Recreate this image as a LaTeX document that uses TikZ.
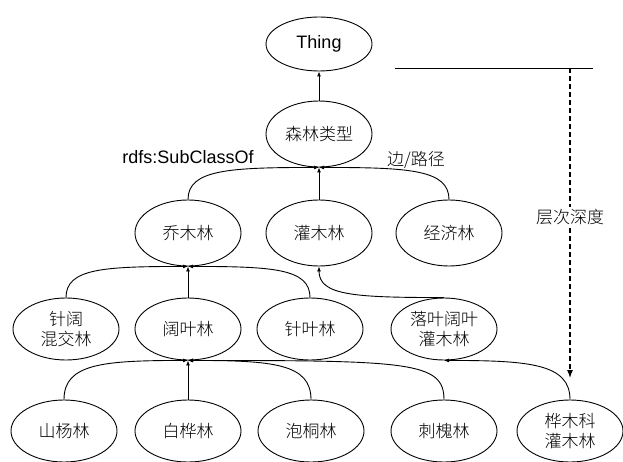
\documentclass[tikz,border=0pt]{standalone}
\usepackage{fontspec}
\setmainfont{Liberation Sans}
\newfontfamily\cjk{Noto Sans CJK SC}[UprightFont=* Light]
\usetikzlibrary{shapes.geometric,arrows.meta}
\begin{document}
\begin{tikzpicture}[x=1pt,y=-1pt,
  cls/.style={draw,ellipse,line width=0.9pt,minimum width=106pt,minimum height=62pt,inner sep=0pt,
    font=\cjk\fontsize{17}{20}\selectfont,align=center},
  tall/.style={cls,minimum height=66pt},
  conn/.style={line width=0.9pt,-{Latex[length=5pt,width=4pt]}},
  lbl/.style={font=\fontsize{18}{20}\selectfont,inner sep=1pt}]
\useasboundingbox (0,0) rectangle (623,462);
\node[cls,minimum height=54pt,font=\fontsize{18}{20}\selectfont] (thing) at (319,44) {Thing};
\node[tall] (senlin) at (319,134) {森林类型};
\node[tall] (qiaomu) at (188,233) {乔木林};
\node[tall] (guanmu) at (319,233) {灌木林};
\node[tall] (jingji) at (449,233) {经济林};
\node[cls] (zhenkuo) at (66,329) {针阔\\混交林};
\node[cls] (kuoye) at (188,329) {阔叶林};
\node[cls] (zhenye) at (310,329) {针叶林};
\node[cls] (luoye) at (444,329) {落叶阔叶\\灌木林};
\node[cls] (shanyang) at (64,431) {山杨林};
\node[cls] (baihua) at (188,431) {白桦林};
\node[cls] (paotong) at (311,431) {泡桐林};
\node[cls] (cihuai) at (444,431) {刺槐林};
\node[cls] (huamu) at (570,431) {桦木科\\灌木林};

\draw[conn] (senlin.north) -- (thing.south);
\draw[conn] (qiaomu.north) .. controls +(0,-30) and +(-90,0) .. (senlin.south);
\draw[conn] (guanmu.north) -- (senlin.south);
\draw[conn] (jingji.north) .. controls +(0,-30) and +(90,0) .. (senlin.south);
\draw[conn] (zhenkuo.north) .. controls +(0,-29) and +(-85,0) .. (qiaomu.south);
\draw[conn] (kuoye.north) -- (qiaomu.south);
\draw[conn] (zhenye.north) .. controls +(0,-29) and +(85,0) .. (qiaomu.south);
\draw[conn] (luoye.north) .. controls +(-90,0) and +(0,29) .. (guanmu.south);
\draw[conn] (shanyang.north) .. controls +(0,-36) and +(-85,0) .. (kuoye.south);
\draw[conn] (baihua.north) -- (kuoye.south);
\draw[conn] (paotong.north) .. controls +(0,-36) and +(85,0) .. (kuoye.south);
\draw[conn] (cihuai.north) .. controls +(0,-38) and +(220,0) .. (kuoye.south);
\draw[conn] (huamu.north) .. controls +(0,-36) and +(85,0) .. (luoye.south);

\coordinate (hl) at (395,68);
\coordinate (hr) at (593,68);
\coordinate (dtop) at (570,68);
\coordinate (dbot) at (570,378);
\draw[line width=0.9pt] (hl) -- (hr);
\draw[line width=1.1pt,dash pattern=on 5pt off 3pt,-{Latex[length=8pt,width=6pt]}] (dtop) -- (dbot);
\node[fill=white,inner sep=2pt,font=\cjk\fontsize{17}{20}\selectfont] (depth) at (570,217) {层次深度};
\node[lbl] (subcls) at (188,157) {rdfs:SubClassOf};
\node[font=\cjk\fontsize{17}{20}\selectfont] (edge) at (416,160) {边/路径};
\end{tikzpicture}
\end{document}
